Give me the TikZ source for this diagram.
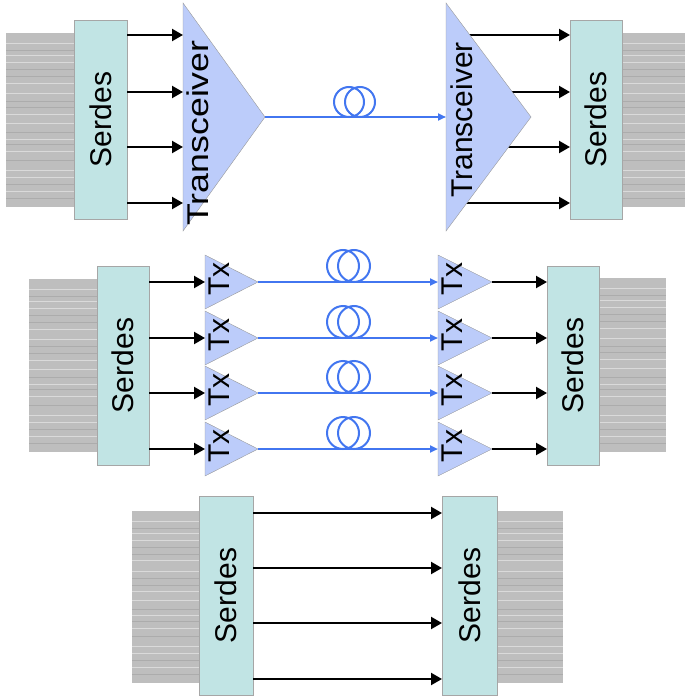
\documentclass[tikz,border=0pt]{standalone}
\usepackage{fontspec}
\setmainfont{Liberation Sans}
\usetikzlibrary{arrows.meta,shapes.geometric,backgrounds}
\definecolor{serdesfill}{RGB}{193,228,228}
\definecolor{trxfill}{RGB}{188,204,250}
\definecolor{fiberblue}{RGB}{66,118,240}
\definecolor{cablegray}{RGB}{190,190,190}
\definecolor{cablelight}{RGB}{218,218,218}
\definecolor{cabledark}{RGB}{172,172,172}
\newcommand{\cable}[4]{%
  \fill[cablegray] (#1,#2) rectangle (#3,#4);%
  \foreach \f in {0.06,0.13,0.17,0.29,0.35,0.47,0.52,0.61,0.68,0.79,0.83,0.91}{%
    \pgfmathsetmacro{\cy}{#2+\f*(#4-#2)}%
    \draw[cablelight,line width=0.9] (#1,\cy) -- (#3,\cy);}%
  \foreach \f in {0.10,0.21,0.25,0.39,0.43,0.57,0.64,0.73,0.87,0.95}{%
    \pgfmathsetmacro{\cy}{#2+\f*(#4-#2)}%
    \draw[cabledark,line width=0.7] (#1,\cy) -- (#3,\cy);}}
\tikzset{
  serdes/.style={draw=black!35,fill=serdesfill,minimum width=#1,minimum height=199,inner sep=0,outer sep=0},
  trx/.style={isosceles triangle,isosceles triangle stretches,shape border rotate=0,draw=black!40,fill=trxfill,inner sep=0,outer sep=0},
  lbl/.style={rotate=90,font=\fontsize{30}{32}\selectfont},
  wire/.style={line width=2.2,-{Triangle[length=11,width=12]}},
  fiber/.style={fiberblue,line width=2,-{Triangle[length=8,width=7]}},
  coil/.style={fiberblue,line width=2}
}
\begin{document}
\begin{tikzpicture}[x=1pt,y=-1pt]
  \useasboundingbox (0,0) rectangle (685,698);
  % --- top: serdes + transceiver over one fiber ---
  \cable{6}{33}{74}{207}
  \cable{622}{33}{685}{207}
  \node[serdes=53] (serdesA) at (100.5,119.5) {};
  \node[lbl] at (serdesA) {Serdes};
  \node[trx,minimum height=82,minimum width=228,anchor=west] (trxA) at (183,117) {};
  \node[lbl] at (198,133) {\scalebox{1.19}[1]{Transceiver}};
  \node[trx,minimum height=85,minimum width=228,anchor=west] (trxB) at (446,117) {};
  \node[lbl] at (462,120) {Transceiver};
  \node[serdes=52] (serdesB) at (596,119.5) {};
  \node[lbl] at (serdesB) {Serdes};
  \foreach \y in {35,92,147,203}{%
    \draw[wire] (serdesA.east |- 0,\y) -- (trxA.west |- 0,\y);}
  \begin{scope}[on background layer]
    \foreach \y in {35,92,147,203}{%
      \draw[wire] (trxB.west |- 0,\y) -- (serdesB.west |- 0,\y);}
  \end{scope}
  \draw[fiber] (trxA.apex) -- (trxB.west);
  \draw[coil] (349,102) circle[radius=15] (360,102) circle[radius=15];
  % --- middle: four parallel Tx lanes ---
  \cable{29}{279}{97}{452}
  \cable{599}{278}{666}{452}
  \node[serdes=52] (serdesC) at (123,365.5) {};
  \node[lbl] at (serdesC) {Serdes};
  \node[serdes=52] (serdesD) at (573,365.5) {};
  \node[lbl] at (serdesD) {Serdes};
  \foreach \i/\y in {1/282,2/338,3/393,4/449}{%
    \node[trx,minimum height=53,minimum width=54,anchor=west] (txC\i) at (205,\y) {};
    \node[lbl] at ([xshift=14,yshift=3]txC\i.west) {Tx};
    \node[trx,minimum height=54,minimum width=54,anchor=west] (txD\i) at (438,\y) {};
    \node[lbl] at ([xshift=14,yshift=3]txD\i.west) {Tx};
    \draw[wire] (serdesC.east |- txC\i.west) -- (txC\i.west);
    \draw[fiber] (txC\i.apex) -- (txD\i.west);
    \draw[coil] (343,\y-16) circle[radius=16] (354,\y-16) circle[radius=16];
    \draw[wire] (txD\i.apex) -- (serdesD.west |- txD\i.apex);}
  % --- bottom: serdes to serdes ---
  \cable{132}{511}{199}{683}
  \cable{497}{511}{563}{683}
  \node[serdes=54] (serdesE) at (226,595.5) {};
  \node[lbl] at (serdesE) {Serdes};
  \node[serdes=55] (serdesF) at (469.5,595.5) {};
  \node[lbl] at (serdesF) {Serdes};
  \foreach \y in {513,568,623,679}{%
    \draw[wire] (serdesE.east |- 0,\y) -- (serdesF.west |- 0,\y);}
\end{tikzpicture}
\end{document}
